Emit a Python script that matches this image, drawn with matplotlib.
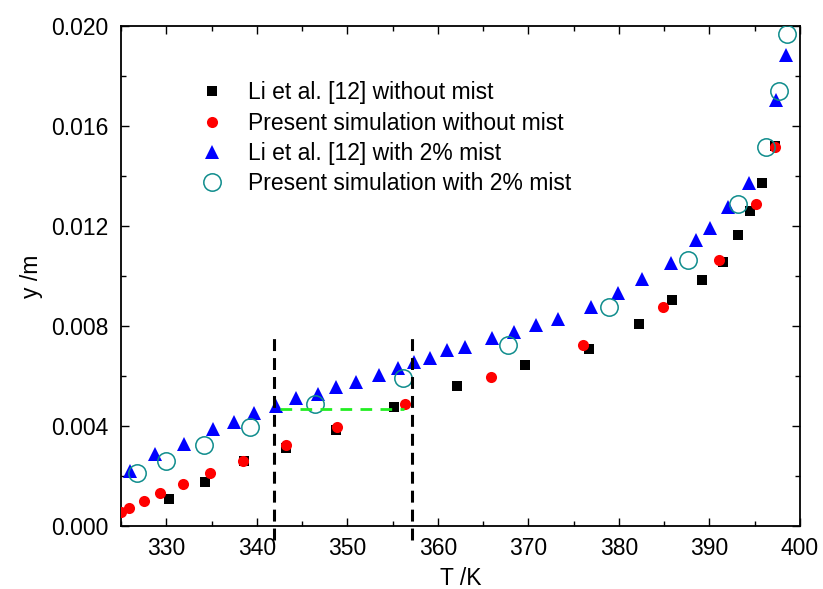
import matplotlib
matplotlib.use("Agg")
import matplotlib.pyplot as plt
from matplotlib.ticker import MultipleLocator, FormatStrFormatter

plt.rcParams['font.family'] = ['Liberation Sans', 'DejaVu Sans']

# Li et al. [12] without mist
T_li_dry = [330.3, 334.3, 338.6, 343.2, 348.8, 355.1, 362.1, 369.6, 376.7, 382.2,
            385.9, 389.2, 391.5, 393.2, 394.5, 395.8, 397.2]
y_li_dry = [0.00108, 0.00177, 0.00260, 0.00313, 0.00384, 0.00477, 0.00561, 0.00645,
            0.00710, 0.00810, 0.00904, 0.00985, 0.01057, 0.01164, 0.01260, 0.01371, 0.01520]

# Present simulation without mist
T_sim_dry = [325.0, 325.9, 327.5, 329.3, 331.8, 334.8, 338.5, 343.2, 348.9, 356.4,
             365.9, 376.0, 384.9, 391.1, 395.1, 397.2]
y_sim_dry = [0.00055, 0.00073, 0.00100, 0.00131, 0.00167, 0.00211, 0.00260, 0.00323,
             0.00397, 0.00488, 0.00595, 0.00724, 0.00877, 0.01064, 0.01288, 0.01517]

# Li et al. [12] with 2% mist
T_li_mist = [326.0, 328.8, 332.0, 335.2, 337.5, 339.7, 342.1, 344.3, 346.8, 348.7,
             351.0, 353.5, 355.6, 357.4, 359.1, 361.0, 363.0, 366.0, 368.4, 370.8,
             373.3, 376.9, 379.9, 382.5, 385.7, 388.5, 390.1, 392.0, 394.4, 397.4, 398.4]
y_li_mist = [0.00222, 0.00288, 0.00328, 0.00387, 0.00415, 0.00451, 0.00480, 0.00511,
             0.00527, 0.00557, 0.00577, 0.00604, 0.00631, 0.00655, 0.00673, 0.00704,
             0.00717, 0.00751, 0.00777, 0.00804, 0.00828, 0.00877, 0.00931, 0.00987,
             0.01053, 0.01144, 0.01193, 0.01275, 0.01371, 0.01704, 0.01884]

# Present simulation with 2% mist
T_sim_mist = [326.8, 330.0, 334.2, 339.3, 346.4, 356.1, 367.8, 378.9, 387.6, 393.2,
              396.2, 397.7, 398.6]
y_sim_mist = [0.00211, 0.00261, 0.00324, 0.00397, 0.00488, 0.00591, 0.00724, 0.00877,
              0.01064, 0.01287, 0.01515, 0.01741, 0.01968]

# Reference lines
T_vlines = [341.9, 357.1]
vline_y = [-0.00055, 0.0077]
T_hline = [342.6, 356.3]
y_hline = 0.00468

labels = ["Li et al. [12] without mist", "Present simulation without mist",
          "Li et al. [12] with 2% mist", "Present simulation with 2% mist"]

FS = 16.5

fig = plt.figure(figsize=(8.23, 5.89), dpi=100)
ax = fig.add_axes([121/823, 1-526/589, (800-121)/823, (526-26)/589])

ax.plot(T_li_dry, y_li_dry, 's', color='black', ms=6.5, mew=0, label=labels[0], zorder=3)
ax.plot(T_sim_dry, y_sim_dry, 'o', color='red', ms=8, mew=0, label=labels[1], zorder=4)
ax.plot(T_li_mist, y_li_mist, '^', color='blue', ms=9.5, mew=0, label=labels[2], zorder=3)
ax.plot(T_sim_mist, y_sim_mist, 'o', mfc='none', mec='#0E8C8C', ms=12.5, mew=1.1,
        label=labels[3], zorder=5)

for tv in T_vlines:
    ln, = ax.plot([tv, tv], vline_y, color='black', lw=2.2, clip_on=False, zorder=6)
    ln.set_dashes((3.9, 2.3))
hl, = ax.plot(T_hline, [y_hline, y_hline], color='#22EE22', lw=2.0, zorder=6)
hl.set_dashes((4.2, 3.0))

ax.set_xlim(325, 400)
ax.set_ylim(0, 0.020)
ax.xaxis.set_major_locator(MultipleLocator(10))
ax.xaxis.set_minor_locator(MultipleLocator(5))
ax.yaxis.set_major_locator(MultipleLocator(0.004))
ax.yaxis.set_minor_locator(MultipleLocator(0.002))
ax.yaxis.set_major_formatter(FormatStrFormatter('%.3f'))
ax.xaxis.set_major_formatter(FormatStrFormatter('%d'))

ax.tick_params(which='both', direction='in', top=True, right=True, width=1.0)
ax.tick_params(which='major', length=6, labelsize=FS)
ax.tick_params(which='minor', length=3.5)
ax.tick_params(axis='x', which='major', pad=8)
ax.tick_params(axis='y', which='major', pad=9)
for s in ax.spines.values():
    s.set_linewidth(1.3)

ax.set_xlabel('T /K', fontsize=FS, labelpad=5)
ax.set_ylabel('y /m', fontsize=FS, labelpad=6)

ax.legend(loc='upper left', bbox_to_anchor=(0.110, 0.889), frameon=False,
          fontsize=FS, handlelength=1.4, handletextpad=0.87, borderpad=0,
          borderaxespad=0, labelspacing=0.32, numpoints=1)

fig.savefig('out.png', dpi=100)
